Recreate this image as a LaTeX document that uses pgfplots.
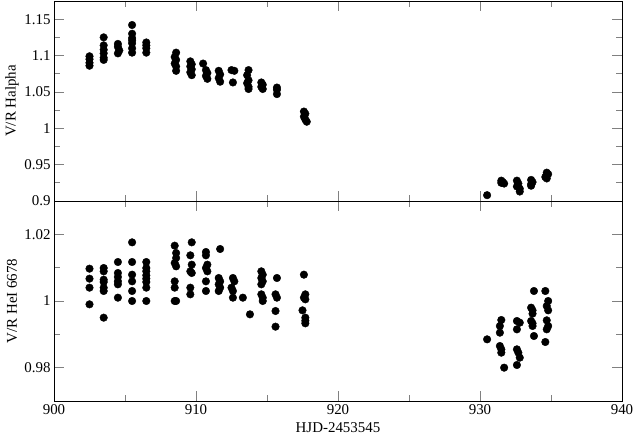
\documentclass[border=0pt]{standalone}
\usepackage{fontspec}
\setmainfont{Liberation Serif}
\usepackage{pgfplots}
\usepackage{pgfplotstable}
\pgfplotsset{compat=1.18}
\pgfplotstableread{
x y
902.5 1.099
902.5 1.095
902.5 1.090
902.5 1.086
903.5 1.125
903.5 1.114
903.5 1.108
903.5 1.103
903.5 1.097
903.5 1.094
904.5 1.116
904.5 1.112
904.6 1.107
904.5 1.103
905.5 1.142
905.5 1.130
905.5 1.124
905.5 1.121
905.5 1.117
905.5 1.110
905.5 1.104
906.5 1.118
906.5 1.114
906.5 1.110
906.5 1.104
908.6 1.104
908.5 1.098
908.6 1.094
908.5 1.089
908.6 1.085
908.6 1.079
909.6 1.092
909.7 1.088
909.6 1.085
909.7 1.081
909.6 1.077
909.7 1.073
910.5 1.089
910.7 1.080
910.8 1.076
910.7 1.072
910.8 1.068
911.6 1.079
911.7 1.074
911.6 1.069
911.7 1.064
912.5 1.080
912.7 1.079
912.6 1.063
913.7 1.080
913.6 1.073
913.7 1.066
913.6 1.062
913.7 1.057
913.7 1.054
914.6 1.063
914.7 1.060
914.6 1.057
914.7 1.054
915.7 1.056
915.7 1.053
915.7 1.047
917.6 1.023
917.7 1.020
917.6 1.016
917.7 1.012
917.8 1.009
930.5 0.908
931.5 0.928
931.6 0.926
931.7 0.924
931.5 0.925
932.6 0.928
932.7 0.924
932.6 0.920
932.8 0.917
932.8 0.913
933.6 0.929
933.7 0.926
933.6 0.923
933.6 0.921
934.7 0.939
934.8 0.937
934.7 0.935
934.6 0.933
934.7 0.931
}\tophalpha
\pgfplotstableread{
x y
902.5 1.0097
902.5 1.0067
902.5 1.0040
902.5 0.9990
903.5 1.0099
903.5 1.0089
903.5 1.0064
903.5 1.0057
903.5 1.0040
903.5 1.0030
903.5 0.9950
904.5 1.0117
904.5 1.0084
904.5 1.0072
904.5 1.0059
904.5 1.0050
904.5 1.0010
905.5 1.0176
905.5 1.0117
905.5 1.0079
905.5 1.0059
905.5 1.0030
905.5 1.0000
906.5 1.0117
906.5 1.0099
906.5 1.0089
906.5 1.0077
906.5 1.0067
906.5 1.0057
906.5 1.0040
906.5 1.0000
908.5 1.0166
908.6 1.0144
908.6 1.0129
908.5 1.0114
908.6 1.0104
908.5 1.0059
908.5 1.0040
908.5 1.0000
908.6 1.0000
909.7 1.0176
909.6 1.0137
909.7 1.0109
909.6 1.0089
909.7 1.0084
909.6 1.0040
909.6 1.0020
910.7 1.0147
910.7 1.0137
910.8 1.0109
910.7 1.0099
910.8 1.0089
910.7 1.0059
910.7 1.0030
911.7 1.0156
911.6 1.0069
911.7 1.0059
911.6 1.0050
911.7 1.0040
911.6 1.0030
912.6 1.0069
912.7 1.0059
912.5 1.0040
912.6 1.0030
912.6 1.0010
913.3 1.0010
913.8 0.9960
914.6 1.0089
914.7 1.0079
914.6 1.0069
914.7 1.0059
914.6 1.0050
914.6 1.0020
914.7 1.0010
914.7 1.0000
915.7 1.0069
915.6 1.0020
915.7 1.0010
915.6 0.9970
915.6 0.9923
917.6 1.0079
917.7 1.0020
917.6 1.0010
917.7 1.0005
917.5 0.9972
917.7 0.9950
917.7 0.9941
917.7 0.9933
930.5 0.9885
931.5 0.9943
931.4 0.9925
931.4 0.9905
931.4 0.9865
931.5 0.9855
931.5 0.9845
931.7 0.9800
932.6 0.9940
932.8 0.9935
932.6 0.9915
932.6 0.9855
932.7 0.9845
932.8 0.9830
932.6 0.9808
933.8 1.0030
933.6 0.9980
933.7 0.9972
933.7 0.9962
933.6 0.9940
933.7 0.9933
933.7 0.9925
933.8 0.9895
934.6 1.0030
934.8 1.0000
934.7 0.9985
934.8 0.9972
934.7 0.9942
934.8 0.9925
934.7 0.9915
934.6 0.9877
}\bothei
\begin{document}
\begin{tikzpicture}[font=\fontsize{15}{18}\selectfont]
\pgfplotsset{
  every axis/.append style={
    scale only axis, width=568bp, height=200bp,
    xmin=900, xmax=940, xtick={900,910,...,940}, minor x tick num=1,
    tick align=inside, major tick length=10bp, minor tick length=6bp,
    tick style={gray, line width=0.7bp},
    axis line style={line width=0.8bp},
    /pgf/number format/assume math mode=true,
    minor y tick num=1,
    ylabel style={at={(axis description cs:-0.074,0.5)}, anchor=center},
  },
}
\begin{axis}[name=top, at={(0,0)}, anchor=north west,
  ymin=0.9, ymax=1.175, ytick={0.9,0.95,...,1.16},
  xticklabels={}, ylabel={V/R Halpha}]
\addplot[only marks, mark=*, mark size=3.8bp, black] table[x=x,y=y] {\tophalpha};
\end{axis}
\begin{axis}[name=bot, at={(top.south west)}, anchor=north west,
  ymin=0.97, ymax=1.03, ytick={0.98,1,1.02},
  ylabel={V/R HeI 6678}, xlabel={HJD-2453545},
  xlabel style={yshift=-1bp}]
\addplot[only marks, mark=*, mark size=3.8bp, black] table[x=x,y=y] {\bothei};
\end{axis}
\pgfresetboundingbox
\path (-54bp,1bp) rectangle (581bp,-434bp);
\end{tikzpicture}
\end{document}
